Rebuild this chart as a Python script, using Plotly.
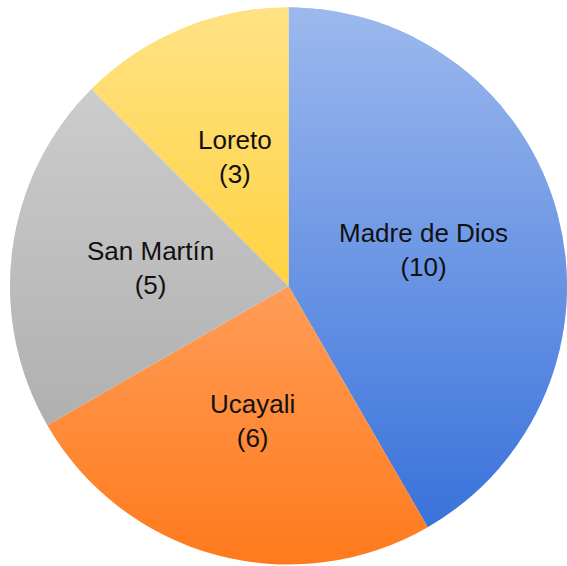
import math
import base64
import plotly.graph_objects as go

labels = ["Madre de Dios", "Ucayali", "San Martín", "Loreto"]
values = [10, 6, 5, 3]
colors = ["#326dda", "#ff7a1c", "#a4a4a4", "#ffc300"]

W, H = 567, 566
dom_x = [10 / W, 1.0]
dom_y = [0.0, 1 - 6 / H]

fig = go.Figure(go.Pie(
    labels=labels,
    values=values,
    sort=False,
    direction="clockwise",
    rotation=0,
    marker=dict(colors=colors, line=dict(width=0)),
    textinfo="none",
    hoverinfo="label+value",
    domain=dict(x=dom_x, y=dom_y),
    showlegend=False,
))

wpx = (dom_x[1] - dom_x[0]) * W
hpx = (dom_y[1] - dom_y[0]) * H
r = min(wpx, hpx) / 2
cx = (dom_x[0] + dom_x[1]) / 2 * W
cy = (dom_y[0] + dom_y[1]) / 2 * H  # from bottom

# vertical light gradient overlay (lighter at top), like the original's shaded fills
svg = (
    '<svg xmlns="http://www.w3.org/2000/svg" viewBox="0 0 100 100" width="100" height="100">'
    '<defs><linearGradient id="g" x1="0" y1="0" x2="0" y2="1">'
    '<stop offset="0" stop-color="#ffffff" stop-opacity="0.52"/>'
    '<stop offset="1" stop-color="#ffffff" stop-opacity="0"/>'
    '</linearGradient></defs>'
    '<circle cx="50" cy="50" r="50" fill="url(#g)"/></svg>'
)
uri = "data:image/svg+xml;base64," + base64.b64encode(svg.encode()).decode()
fig.add_layout_image(
    source=uri, xref="paper", yref="paper",
    x=(cx - r) / W, y=(cy + r) / H, sizex=2 * r / W, sizey=2 * r / H,
    xanchor="left", yanchor="top", sizing="stretch", layer="above", opacity=1,
)

# label positions: half radius along each slice's mid-angle (computed from values)
total = sum(values)
cum = 0
for lab, v in zip(labels, values):
    mid = (cum + v / 2) / total * 2 * math.pi
    cum += v
    px = cx + 0.5 * r * math.sin(mid)
    py = cy + 0.5 * r * math.cos(mid)
    fig.add_annotation(
        x=px / W, y=py / H, xref="paper", yref="paper",
        text=f"{lab}<br>({v})", showarrow=False,
        xanchor="center", yanchor="middle", align="center",
        font=dict(family="Liberation Sans, Arial", size=26, color="#111111"),
    )

fig.update_layout(
    width=W, height=H,
    margin=dict(l=0, r=0, t=0, b=0),
    paper_bgcolor="white",
    plot_bgcolor="white",
)

fig.write_html("out.html", config={"displayModeBar": False},
               post_script="document.body.style.margin='0';")
